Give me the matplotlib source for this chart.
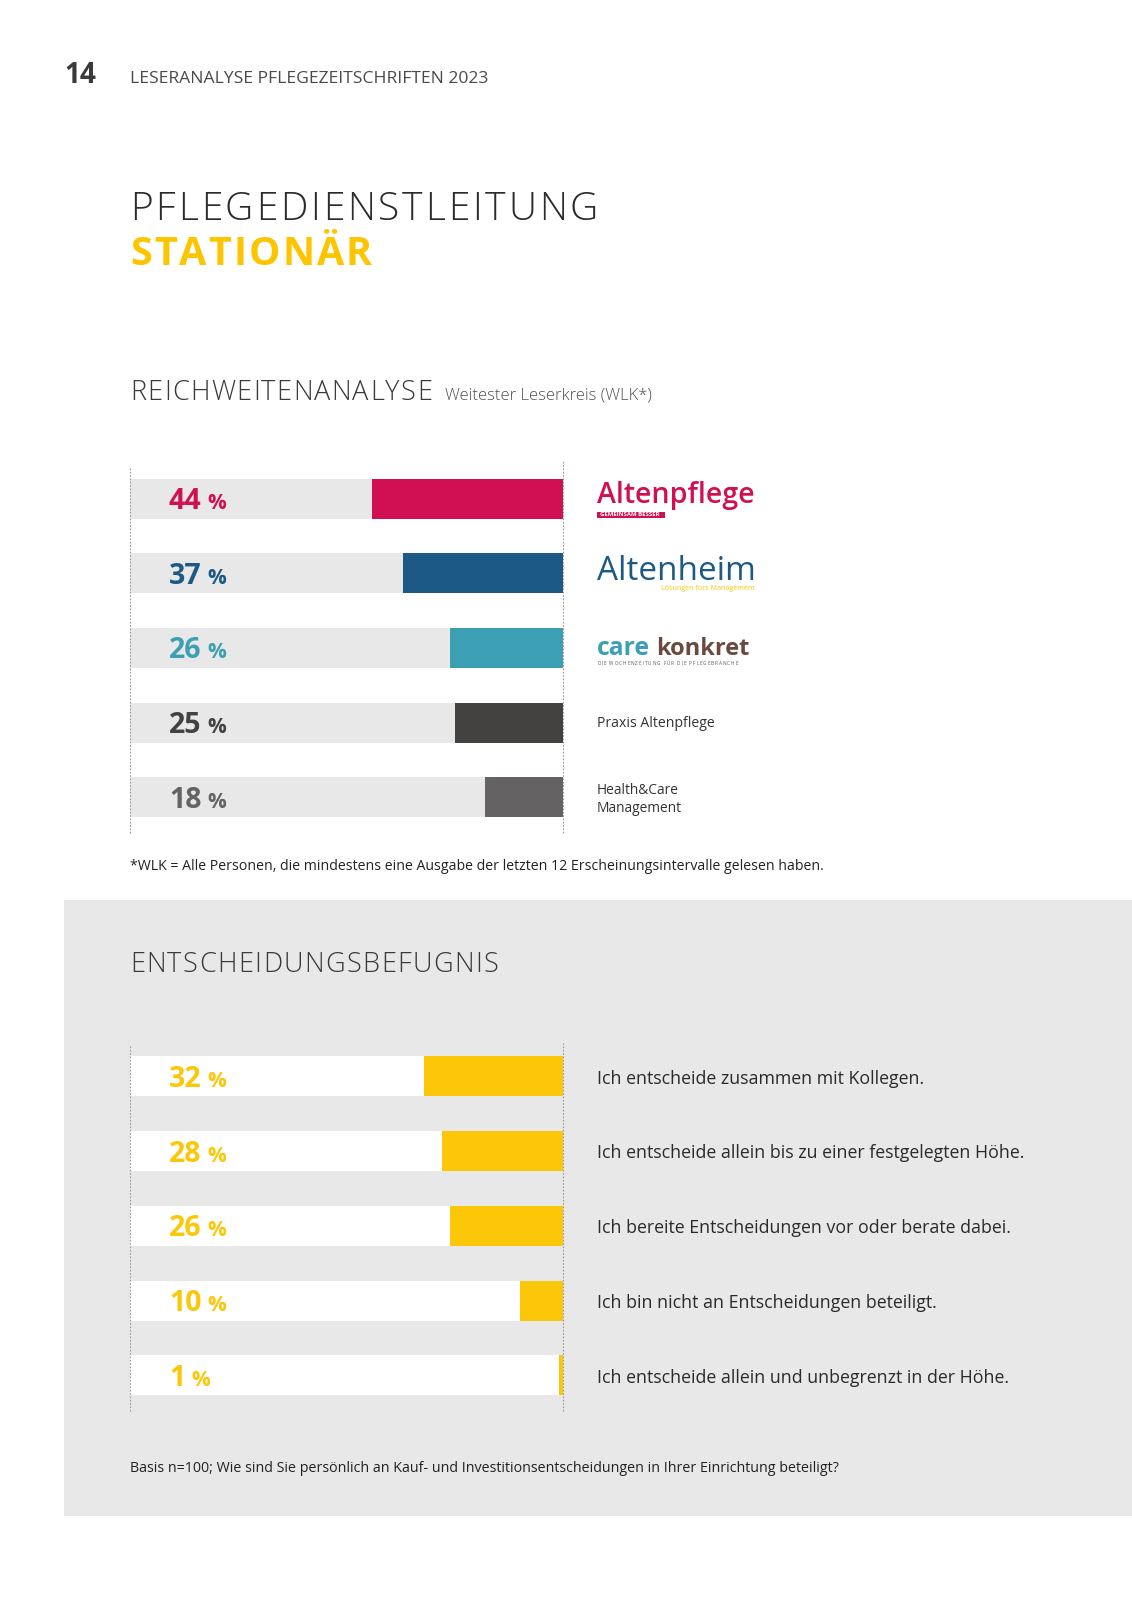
import matplotlib
matplotlib.use("Agg")
import matplotlib.pyplot as plt
from matplotlib.patches import Rectangle
from matplotlib.transforms import offset_copy

W, H, DPI = 1132, 1600, 100

# data
reach_titles = ["Altenpflege", "Altenheim", "care konkret", "Praxis Altenpflege", "Health&Care\nManagement"]
reach_values = [44, 37, 26, 25, 18]
decision_labels = [
    "Ich entscheide zusammen mit Kollegen.",
    "Ich entscheide allein bis zu einer festgelegten Höhe.",
    "Ich bereite Entscheidungen vor oder berate dabei.",
    "Ich bin nicht an Entscheidungen beteiligt.",
    "Ich entscheide allein und unbegrenzt in der Höhe.",
]
decision_values = [32, 28, 26, 10, 1]

# styles
reach_colors = ["#d01052", "#1c5a85", "#3d9fb3", "#444241", "#646262"]
YELLOW = "#fcc708"
PANEL = "#e8e8e8"
DOTS = "#9a9a9a"

plt.rcParams["font.family"] = ["Open Sans", "DejaVu Sans"]

fig = plt.figure(figsize=(W / DPI, H / DPI), dpi=DPI)
page = fig.add_axes([0, 0, 1, 1])
page.set_xlim(0, W)
page.set_ylim(H, 0)
page.axis("off")
page.set_zorder(0)
R = fig.canvas.get_renderer()

# grey panel behind the second chart
page.add_patch(Rectangle((64, 900), W - 64, 616, color=PANEL, lw=0))


def text_width(s, **kw):
    t = page.text(0, 0, s, **kw)
    w = t.get_window_extent(R).width
    t.remove()
    return w


def fit(x, y, s, width, size=12, **kw):
    # scale font size so the string spans the given width
    w = text_width(s, size=size, **kw)
    return page.text(x, y, s, size=size * width / w, va="baseline", **kw)


def tracked(x, y, s, width, **kw):
    # letter spaced text spanning the given width
    widths = [text_width(c, **kw) for c in s]
    gap = (width - sum(widths)) / (len(s) - 1)
    for c, w in zip(s, widths):
        page.text(x, y, c, va="baseline", **kw)
        x += w + gap


# header
fit(64, 83, "14", 32, weight="bold", color="#3a3a3a")
fit(130, 83, "LESERANALYSE PFLEGEZEITSCHRIFTEN 2023", 357, color="#4a4a4a")
tracked(130, 220, "PFLEGEDIENSTLEITUNG", 468, size=28, weight="light", color="#2b2b2b")
tracked(130, 265, "STATIONÄR", 242, size=28.5, weight="bold", color="#fcc500")

tracked(130, 400, "REICHWEITENANALYSE", 302, size=19.5, weight="light", color="#3a3a3a")
fit(445, 400, "Weitester Leserkreis (WLK*)", 207, weight="light", color="#505050")
fit(130, 870, "*WLK = Alle Personen, die mindestens eine Ausgabe der letzten 12 Erscheinungsintervalle gelesen haben.",
    690, color="#222222")

tracked(130, 972, "ENTSCHEIDUNGSBEFUGNIS", 368, size=19.5, weight="light", color="#3a3a3a")
fit(130, 1472, "Basis n=100; Wie sind Sie persönlich an Kauf- und Investitionsentscheidungen in Ihrer Einrichtung beteiligt?",
    706, color="#222222")

# title marks next to the reach bars
fit(597, 503, reach_titles[0], 158, weight="semibold", color=reach_colors[0])
page.add_patch(Rectangle((597, 511.5), 68, 6, color=reach_colors[0], lw=0))
fit(600, 516.5, "GEMEINSAM BESSER", 60, weight="bold", color="white")
fit(597, 580, reach_titles[1], 158, color=reach_colors[1])
t = fit(0, 590, "Lösungen fürs Management", 94, color=YELLOW)
t.set_x(755)
t.set_ha("right")
care, konkret = reach_titles[2].split()
fit(597, 655, care, 53, weight="bold", color=reach_colors[2])
fit(656, 655, konkret, 93, weight="bold", color="#6a4a3f")
tracked(597, 665, "DIE WOCHENZEITUNG FÜR DIE PFLEGEBRANCHE", 141, size=3.3, color="#555555")
fit(597, 727, reach_titles[3], 117, color="#333333")
name1, name2 = reach_titles[4].split("\n")
fit(597, 794, name1, 82, color="#333333")
fit(597, 812, name2, 85, color="#333333")


def bar_panel(rect, ylim, values, colors, track, label_colors, dot_top):
    ax = fig.add_axes(rect)
    ax.set_zorder(1)
    ax.patch.set_visible(False)
    n = len(values)
    rows = list(range(n))
    ax.set_xlim(0, 100)
    ax.set_ylim(*ylim)
    px_per_row = rect[3] * H / (ylim[0] - ylim[1])
    h = 40 / px_per_row
    ax.barh(rows, [100] * n, height=h, color=track, lw=0)
    ax.barh(rows, values, left=[100 - v for v in values], height=h, color=colors, lw=0)
    ax.axvline(0, ymin=0, ymax=dot_top, color=DOTS, lw=0.8, ls=(0, (1.5, 1.5)), clip_on=False)
    ax.axvline(100, color=DOTS, lw=0.8, ls=(0, (1.5, 1.5)), clip_on=False, zorder=3)
    ax.axis("off")
    base = offset_copy(ax.transData, fig=fig, y=-10.5, units="dots")
    for i, v in enumerate(values):
        num = ax.text(9, i, str(v), transform=base, size=20.5, weight="bold",
                      color=label_colors[i], va="baseline")
        bb = num.get_window_extent(R)
        x_pct = ax.transData.inverted().transform((bb.x1 + 6, 0))[0]
        ax.text(x_pct, i, "%", transform=base, size=15, weight="bold",
                color=label_colors[i], va="baseline")
    return ax


ax1 = bar_panel([130 / W, 1 - 833 / H, 433 / W, 373 / H], (4.483, -0.523),
                reach_values, reach_colors, PANEL, reach_colors, 0.981)

ax2 = bar_panel([130 / W, 1 - 1411 / H, 433 / W, 368 / H], (4.475, -0.448),
                decision_values, YELLOW, "white", [YELLOW] * 5, 0.995)

lab_size = 12 * 426 / text_width(decision_labels[1], size=12)
for i, lab in enumerate(decision_labels):
    ax2.text(107.8, i + 0.03, lab, size=lab_size, color="#2a2a2a", va="center", clip_on=False)

fig.savefig("out.png", dpi=DPI)
